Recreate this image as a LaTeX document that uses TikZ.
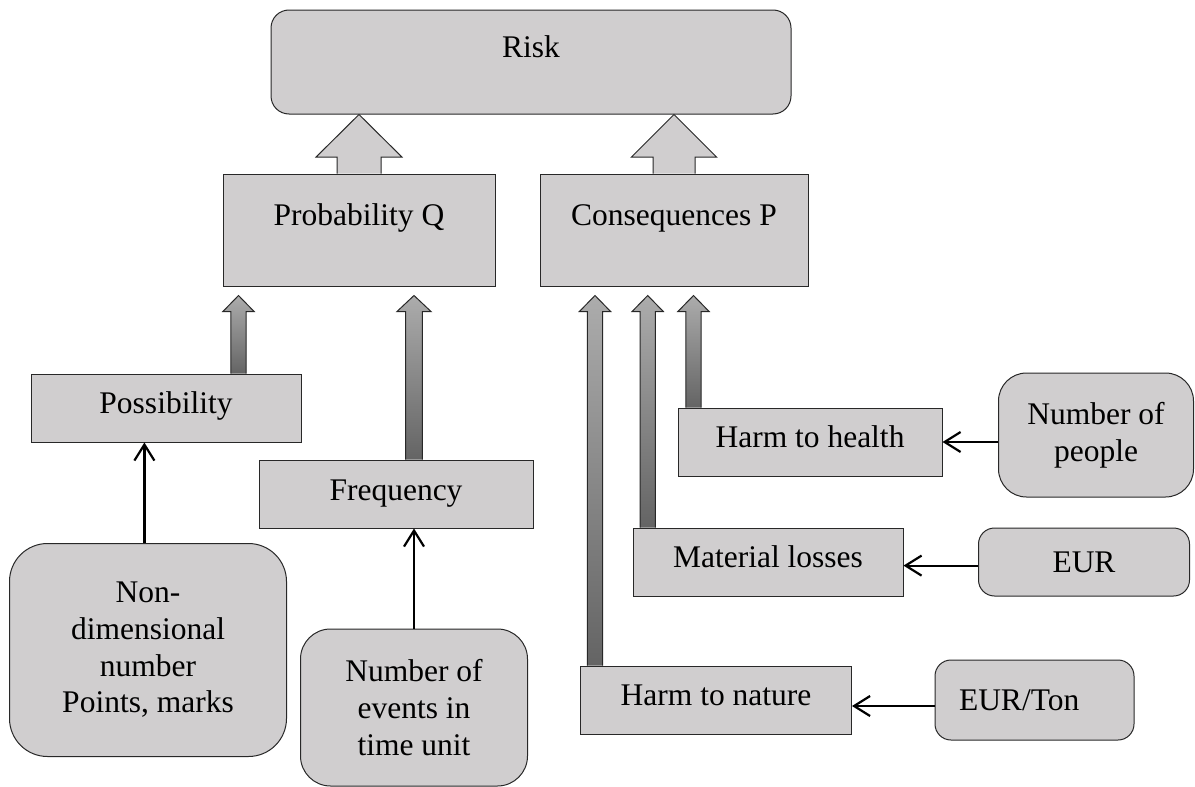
\documentclass[tikz,border=0pt]{standalone}
\usepackage{fontspec}
\setmainfont{Liberation Serif}
\usetikzlibrary{arrows.meta,calc}
\definecolor{boxgray}{RGB}{208,206,207}
\definecolor{linegray}{RGB}{40,40,40}
\definecolor{shafttop}{RGB}{172,172,172}
\definecolor{shaftbot}{RGB}{100,100,100}
\tikzset{
  unitbox/.style={draw=linegray, line width=0.5pt, fill=boxgray, inner sep=1pt, align=center},
  roundbox/.style={unitbox, rounded corners=#1},
  hightext/.style={text height=11pt, text depth=16pt},
  midtext/.style={text height=11pt, text depth=6pt},
  feed/.style={line width=1.1pt, -{Straight Barb[length=8pt,width=10pt]}},
}
% block arrow: options, base, tip, shaft half width, head half width, head length
\newcommand{\fatarrow}[6]{%
  \path[#1] let \p1=(#2), \p2=(#3) in
    (\x1-#4,\y1) -- (\x1-#4,\y2-#6) -- (\x1-#5,\y2-#6) -- (\x1,\y2)
    -- (\x1+#5,\y2-#6) -- (\x1+#4,\y2-#6) -- (\x1+#4,\y1) -- cycle;
  \draw[linegray, line width=0.5pt] let \p1=(#2), \p2=(#3) in
    (\x1-#4,\y1) -- (\x1-#4,\y2-#6) -- (\x1-#5,\y2-#6) -- (\x1,\y2)
    -- (\x1+#5,\y2-#6) -- (\x1+#4,\y2-#6) -- (\x1+#4,\y1);}
\begin{document}
\begin{tikzpicture}[x=0.5pt,y=-0.5pt,font=\fontsize{15.75pt}{18.35pt}\selectfont]
  \useasboundingbox (0,0) rectangle (1195,787);
  % top level
  \node[roundbox=9pt, hightext, minimum width=260pt, minimum height=52pt] (risk) at (531,62) {Risk};
  \node[unitbox, hightext, minimum width=136pt, minimum height=56pt] (prob) at (359,230) {Probability Q};
  \node[unitbox, hightext, minimum width=134pt, minimum height=56pt] (cons) at (674,230) {Consequences P};
  % probability side
  \node[unitbox, midtext, minimum width=135pt, minimum height=34pt] (poss) at (166,408) {Possibility};
  \node[unitbox, minimum width=137pt, minimum height=34pt] (freq) at (396,494) {Frequency};
  \node[roundbox=19pt, minimum width=138.5pt, minimum height=106.5pt] (nondim) at (148,650)
    {Non-\\dimensional\\number\\Points, marks};
  \node[roundbox=15pt, minimum width=113.5pt, minimum height=78.5pt] (events) at (414,707.5)
    {Number of\\events in\\time unit};
  % consequences side
  \node[unitbox, midtext, minimum width=132pt, minimum height=34pt] (health) at (810,442) {Harm to health};
  \node[unitbox, midtext, minimum width=135pt, minimum height=34pt] (loss) at (768,562) {Material losses};
  \node[unitbox, midtext, minimum width=135.5pt, minimum height=34pt] (nature) at (716,700) {Harm to nature};
  \node[roundbox=14pt, minimum width=97.5pt, minimum height=62pt] (nop) at (1096,435) {Number of\\people};
  \node[roundbox=8pt, minimum width=105.5pt, minimum height=34pt] (eur) at (1084,562) {EUR};
  \node[roundbox=8pt, inner xsep=12pt, text width=75.5pt, align=left, minimum height=40pt] (ton) at (1034.5,700) {EUR/Ton};
  % block arrows
  \fatarrow{fill=boxgray}{prob.north}{risk.south}{11pt}{21.5pt}{21.3pt}
  \fatarrow{fill=boxgray}{cons.north}{risk.south}{10.5pt}{21.3pt}{21.3pt}
  \fatarrow{top color=shafttop, bottom color=shaftbot}{[xshift=-31.5pt]poss.north east}{[yshift=-4.5pt]prob.south}{3.8pt}{7.8pt}{8pt}
  \fatarrow{top color=shafttop, bottom color=shaftbot}{[xshift=9pt]freq.north}{[yshift=-4.5pt]prob.south}{4.2pt}{8.5pt}{8pt}
  \fatarrow{top color=shafttop, bottom color=shaftbot}{[xshift=7.5pt]nature.north west}{[yshift=-4.5pt]cons.south}{3.8pt}{7.8pt}{8pt}
  \fatarrow{top color=shafttop, bottom color=shaftbot}{[xshift=7.6pt]loss.north west}{[yshift=-4.5pt]cons.south}{3.8pt}{7.8pt}{8pt}
  \fatarrow{top color=shafttop, bottom color=shaftbot}{[xshift=8pt]health.north west}{[yshift=-4.5pt]cons.south}{3.8pt}{7.8pt}{8pt}
  % measures
  \draw[feed] ([xshift=-1.8pt]nondim.north) -- ([xshift=-1.8pt]nondim.north |- poss.south);
  \draw[feed] (events.north) -- (events.north |- freq.south);
  \draw[feed] (health.east -| nop.west) -- (health.east);
  \draw[feed] ([yshift=-1.8pt]eur.west) -- ([yshift=-1.8pt]loss.east);
  \draw[feed] ([yshift=-3pt]ton.west) -- ([yshift=-3pt]nature.east);
\end{tikzpicture}
\end{document}
